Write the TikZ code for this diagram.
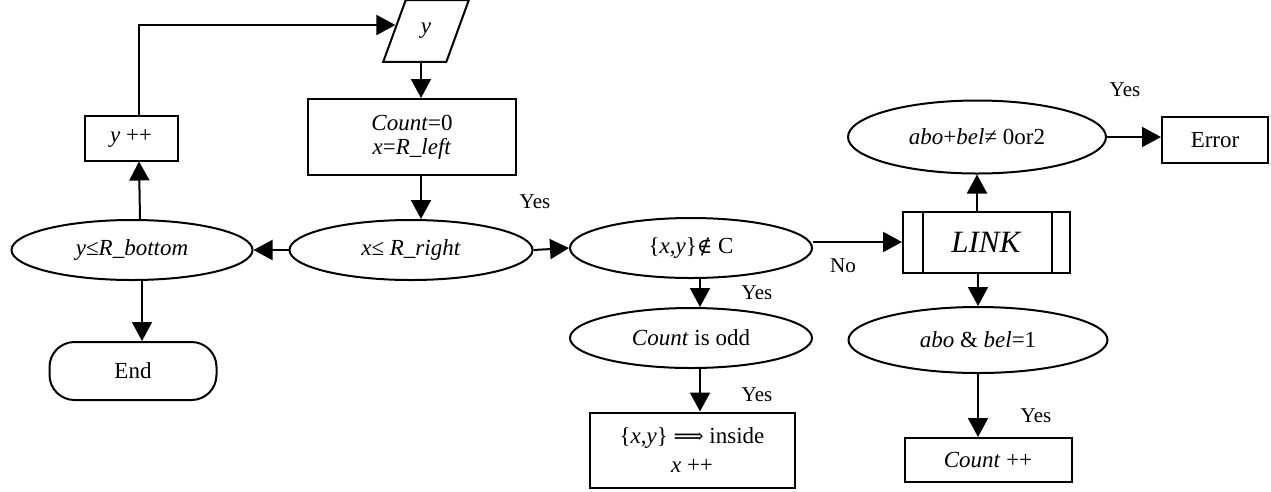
\documentclass[tikz,border=0pt]{standalone}
\usepackage{fontspec}
\setmainfont{Liberation Serif}
\newfontfamily\symf{DejaVu Serif}
\usetikzlibrary{shapes.geometric,arrows.meta}
\begin{document}
\begin{tikzpicture}[x=1pt,y=-1pt,
  line width=2pt,
  every node/.style={font=\fontsize{23}{24}\selectfont, inner sep=0pt, align=center},
  box/.style={draw, rectangle},
  oval/.style={draw, ellipse},
  arr/.style={-{Triangle[length=19pt,width=20pt]}},
  lbl/.style={font=\fontsize{21}{22}\selectfont}
]
\useasboundingbox (0,0) rectangle (1271,491);

% nodes
\node[draw, trapezium, trapezium left angle=70, trapezium right angle=110,
      minimum width=86pt, minimum height=42pt] (par) at (426,31) {\textit{y}};
\node[box, minimum width=208pt, minimum height=76pt] (init) at (412,137)
  {\textit{Count}=0\\ \textit{x}=\textit{R\_left}};
\node[oval, minimum width=243pt, minimum height=60pt] (xr) at (411,250)
  {\textit{x}≤ \textit{R\_right}};
\node[oval, minimum width=241pt, minimum height=60pt] (yb) at (132,250)
  {\textit{y}≤\textit{R\_bottom}};
\node[box, minimum width=93pt, minimum height=45pt] (ypp) at (131,138) {\textit{y} ++};
\node[draw, rectangle, rounded corners=25pt, minimum width=167pt, minimum height=58pt] (end) at (133,371) {End};
\node[oval, minimum width=242pt, minimum height=60pt] (nc) at (691,248)
  {\{\textit{x},\textit{y}\}{\symf\fontsize{21}{22}\selectfont ∉} C};
\node[oval, minimum width=242pt, minimum height=60pt] (odd) at (691,338)
  {\textit{Count} is odd};
\node[box, minimum width=205pt, minimum height=75pt] (inside) at (692,450)
  {\{\textit{x},\textit{y}\} {\symf\fontsize{21}{22}\selectfont ⟹} inside\\[5pt] \textit{x} ++};
\node[box, minimum width=167pt, minimum height=61pt, font=\fontsize{31}{32}\selectfont] (link) at (986.5,242)
  {\textit{LINK}};
\draw ([xshift=21pt]link.north west) -- ([xshift=21pt]link.south west);
\draw ([xshift=-19pt]link.north east) -- ([xshift=-19pt]link.south east);
\node[oval, minimum width=258pt, minimum height=73pt] (ab) at (977,137)
  {\textit{abo}+\textit{bel}≠ 0or2};
\node[box, minimum width=106pt, minimum height=46pt] (err) at (1215,140) {Error};
\node[oval, minimum width=259pt, minimum height=66pt] (ab1) at (978,340)
  {\textit{abo} \& \textit{bel}=1};
\node[box, minimum width=167pt, minimum height=44pt] (cpp) at (988,460) {\textit{Count} ++};

% labels
\node[lbl] (l1) at (535,202) {Yes};
\node[lbl] (l2) at (843,266) {No};
\node[lbl] (l3) at (757,293) {Yes};
\node[lbl] (l4) at (757,395) {Yes};
\node[lbl] (l5) at (1125,90) {Yes};
\node[lbl] (l6) at (1036,416) {Yes};

% connectors
\coordinate (pa) at ([xshift=-5pt]par.south);
\draw[arr] (pa) -- (pa |- init.north);
\draw[arr] (pa |- init.south) -- (pa |- xr.north);
\draw[arr] (xr.west) -- (yb.east);
\draw[arr] ([xshift=8pt]yb.north) -- ([xshift=8pt]ypp.south);
\draw[arr] ([xshift=8pt]ypp.north) |- ([yshift=6pt,xshift=2pt]par.west);
\draw[arr] ([xshift=10pt]yb.south) -- ([xshift=9pt]end.north);
\draw[arr] (xr.east) -- (nc.west);
\draw[arr] (nc.east |- link.west) -- (link.west);
\draw[arr] ([xshift=9pt]nc.south) -- ([xshift=9pt]odd.north);
\draw[arr] ([xshift=9pt]odd.south) -- ([xshift=8pt]inside.north);
\draw[arr] (ab.south |- link.north) -- (ab.south);
\draw[arr] (ab.east) -- (ab.east -| err.west);
\draw[arr] (ab1.north |- link.south) -- (ab1.north);
\draw[arr] (ab1.south) -- (ab1.south |- cpp.north);
\end{tikzpicture}
\end{document}
